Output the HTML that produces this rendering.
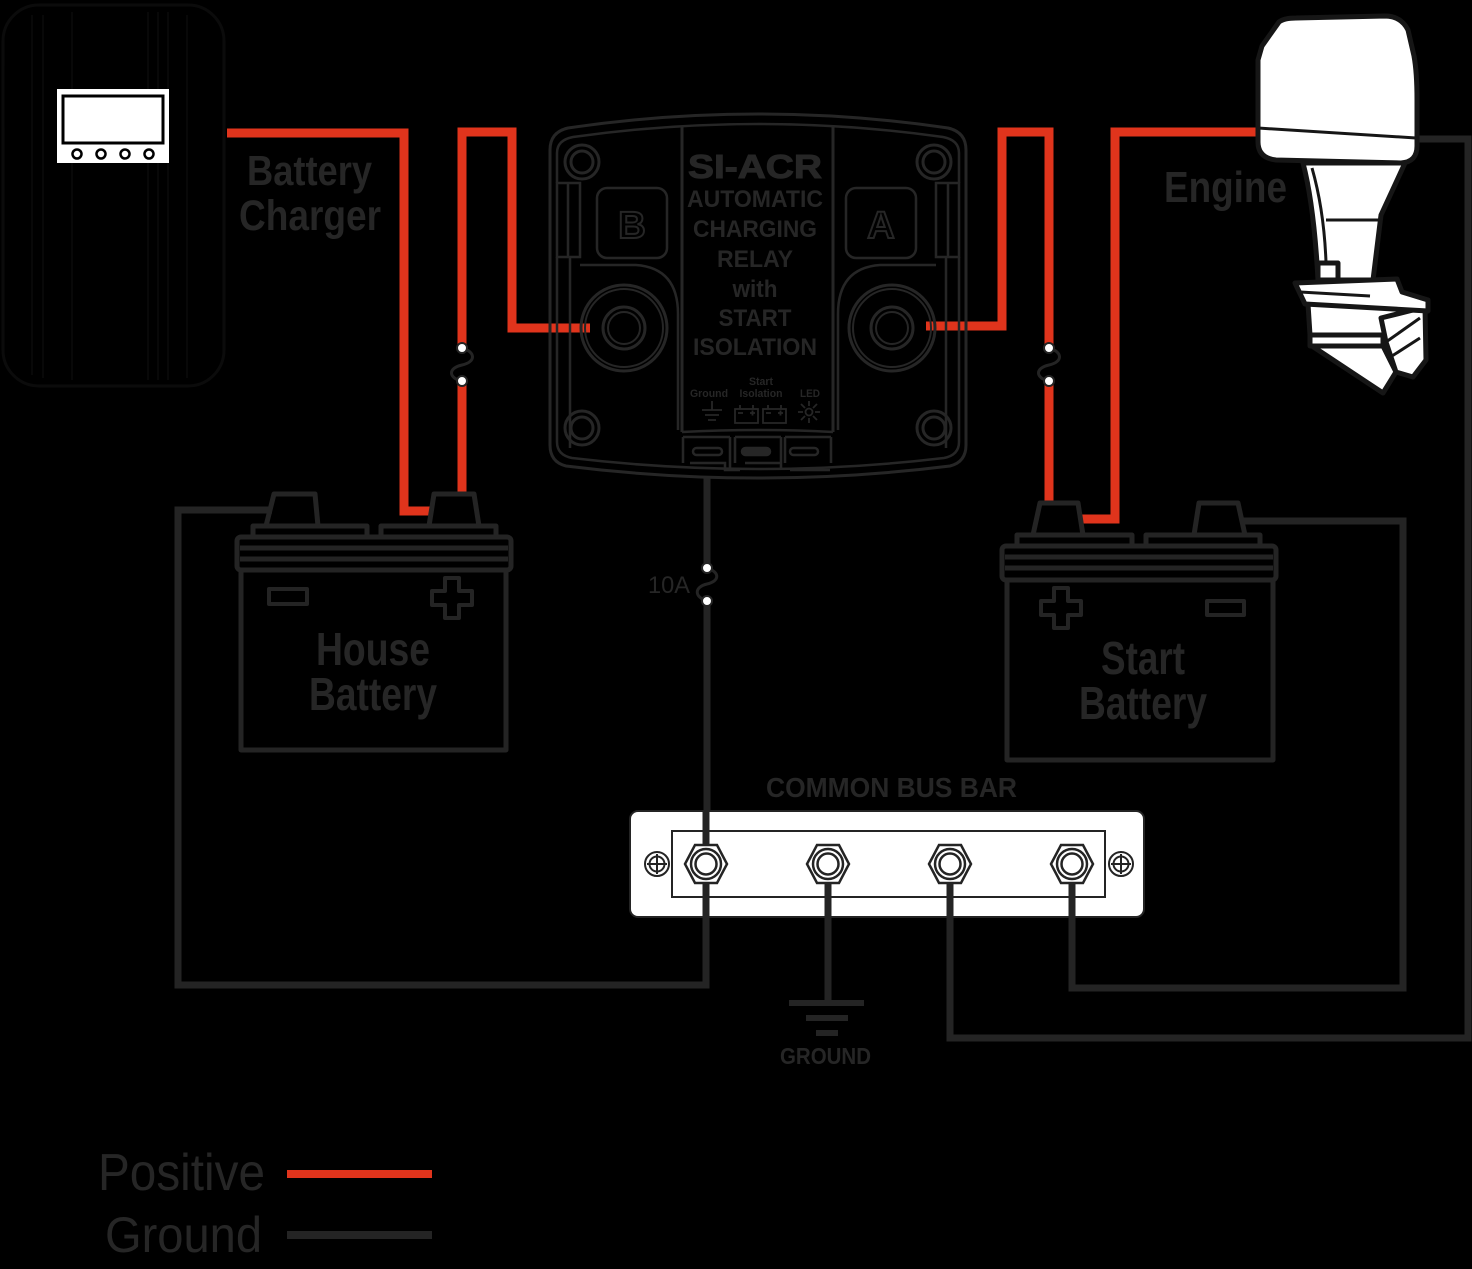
<!DOCTYPE html>
<html><head><meta charset="utf-8"><style>
html,body{margin:0;padding:0;background:#000;}
svg{display:block;}
.t{font-family:"Liberation Sans Narrow","Liberation Sans",sans-serif;fill:#262626;}
</style></head><body>
<svg width="1472" height="1269" viewBox="0 0 1472 1269" xmlns="http://www.w3.org/2000/svg">
<rect x="0" y="0" width="1472" height="1269" fill="#000"/>

<!-- Battery charger (faint) -->
<g stroke="#0b0b0b" fill="none">
<rect x="3" y="5" width="221" height="381" rx="36" stroke-width="3"/>
<g stroke-width="1.5"><line x1="32" y1="15" x2="32" y2="375"/><line x1="43" y1="15" x2="43" y2="378"/><line x1="72" y1="12" x2="72" y2="380"/><line x1="148" y1="12" x2="148" y2="380"/><line x1="158" y1="12" x2="158" y2="380"/><line x1="168" y1="12" x2="168" y2="380"/><line x1="187" y1="15" x2="187" y2="378"/></g>
</g>
<rect x="57" y="89" width="112" height="74" fill="#fff"/>
<rect x="63" y="96" width="100" height="47" fill="#fff" stroke="#000" stroke-width="3"/>
<g fill="#fff" stroke="#000" stroke-width="2.5"><circle cx="77" cy="154" r="4.5"/><circle cx="101" cy="154" r="4.5"/><circle cx="125" cy="154" r="4.5"/><circle cx="149" cy="154" r="4.5"/></g>

<text class="t" x="247" y="185" font-size="42" font-weight="bold" textLength="125" lengthAdjust="spacingAndGlyphs">Battery</text>
<text class="t" x="239" y="230" font-size="43" font-weight="bold" textLength="142" lengthAdjust="spacingAndGlyphs">Charger</text>
<text class="t" x="1164" y="202" font-size="44" font-weight="bold" textLength="123" lengthAdjust="spacingAndGlyphs">Engine</text>

<!-- Ground wires -->
<g stroke="#242424" stroke-width="7" fill="none" stroke-linejoin="miter">
<path d="M272 510 H178 V985 H706 V864"/>
<path d="M707 478 V568 M707 601 V864"/>
<path d="M1243 521 H1403 V988 H1072 V878"/>
<path d="M1412 139 H1468 V1038 H950 V878"/>
<path d="M828 878 V1003"/>
</g>
<g fill="#242424">
<rect x="789" y="1000" width="75" height="6"/>
<rect x="806" y="1015" width="42" height="6"/>
<rect x="816" y="1030" width="22" height="6"/>
</g>

<!-- Red positive wires -->
<g stroke="#e0341c" stroke-width="9" fill="none" stroke-linejoin="miter">
<path d="M227 133 H404 V511 H432"/>
<path d="M462 494 V381 M462 348 V132 H512 V328 H590"/>
<path d="M926 326 H1002 V132 H1049 V348 M1049 381 V505"/>
<path d="M1256 132 H1115 V519 H1080"/>
</g>

<!-- Fuses -->
<g stroke="#242424" stroke-width="3" fill="none">
<path d="M462 348 C476 352 476 362 462 365 C448 368 448 378 462 381"/>
<path d="M1049 348 C1063 352 1063 362 1049 365 C1035 368 1035 378 1049 381"/>
<path d="M707 568 C720 572 720 581 707 584 C694 587 694 597 707 601"/>
</g>
<g fill="#fff" stroke="#242424" stroke-width="2">
<circle cx="462" cy="348" r="5"/><circle cx="462" cy="381" r="5"/>
<circle cx="1049" cy="348" r="5"/><circle cx="1049" cy="381" r="5"/>
<circle cx="707" cy="568" r="5"/><circle cx="707" cy="601" r="5"/>
</g>
<text class="t" x="648" y="593" font-size="24" textLength="42" lengthAdjust="spacingAndGlyphs">10A</text>

<!-- SI-ACR -->
<g stroke="#262626" fill="none" stroke-width="3">
<path d="M550 150 Q550 132 568 128 Q758 100 948 128 Q966 132 966 150 L966 445 Q966 462 950 466 Q758 490 566 466 Q550 462 550 445 Z"/>
<path d="M557 183 L557 153 Q557 140 573 137 Q758 111 943 137 Q959 140 959 153 L959 183 M557 257 L557 442 Q557 455 572 458 Q758 480 944 458 Q959 455 959 442 L959 257" stroke-width="2.5"/>
<rect x="557" y="183" width="23" height="74" stroke-width="2.5"/>
<line x1="568" y1="183" x2="568" y2="257" stroke-width="2.5"/>
<rect x="936" y="183" width="23" height="74" stroke-width="2.5"/>
<line x1="948" y1="183" x2="948" y2="257" stroke-width="2.5"/>
<path d="M570 257 V448" stroke-width="2.5"/>
<path d="M946 257 V448" stroke-width="2.5"/>
<path d="M580 265 H636 Q678 268 678 314 V430" stroke-width="2.5"/>
<path d="M936 265 H880 Q838 268 838 314 V430" stroke-width="2.5"/>
<path d="M682 126 V432 M833 126 V432"/>
<path d="M682 432 Q758 428 833 432" stroke-width="2.5"/>
<rect x="597" y="188" width="70" height="70" rx="10" stroke-width="2.5"/>
<rect x="846" y="188" width="70" height="70" rx="10" stroke-width="2.5"/>
<circle cx="624" cy="328" r="43"/><circle cx="624" cy="328" r="39" stroke-width="2"/>
<circle cx="624" cy="328" r="21"/><circle cx="624" cy="328" r="16" stroke-width="2"/>
<circle cx="892" cy="328" r="43"/><circle cx="892" cy="328" r="39" stroke-width="2"/>
<circle cx="892" cy="328" r="21"/><circle cx="892" cy="328" r="16" stroke-width="2"/>
<circle cx="582" cy="162" r="17"/><circle cx="582" cy="162" r="11"/>
<circle cx="934" cy="162" r="17"/><circle cx="934" cy="162" r="11"/>
<circle cx="582" cy="428" r="17"/><circle cx="582" cy="428" r="11"/>
<circle cx="934" cy="428" r="17"/><circle cx="934" cy="428" r="11"/>
<!-- connectors -->
<g stroke-width="2.5">
<path d="M683 437 V463 M730 437 V470 M735 437 V463 M781 437 V470 M785 437 V463 M831 437 V463"/>
<path d="M683 437 H730 M735 437 H781 M785 437 H831"/>
<rect x="693" y="448" width="29" height="7" rx="3.5"/>
<rect x="742" y="448" width="28" height="7" rx="3.5" fill="#262626"/>
<rect x="790" y="448" width="28" height="7" rx="3.5"/>
<path d="M690 463 H725 V470 H740 M780 463 H745 M790 470 H830"/>
</g>
<!-- small icons -->
<g stroke-width="1.8">
<path d="M712 401 V410 M702 410 H722 M705 415 H719 M708 420 H716"/>
<rect x="735" y="409" width="23" height="14"/>
<path d="M740 409 V405 M753 409 V405 M738 413 H743 M750 413 H755 M752.5 410.5 V415.5"/>
<rect x="763" y="409" width="23" height="14"/>
<path d="M768 409 V405 M781 409 V405 M766 413 H771 M778 413 H783 M780.5 410.5 V415.5"/>
<circle cx="809" cy="412" r="3.5"/>
<path d="M809 401 V406 M809 418 V423 M798 412 H803 M815 412 H820 M801 404 L805 408 M813 416 L817 420 M817 404 L813 408 M805 416 L801 420"/>
</g>
</g>
<text class="t" x="688" y="178" font-size="33" font-weight="bold" textLength="134" lengthAdjust="spacingAndGlyphs" stroke="#262626" stroke-width="1">SI-ACR</text>
<g class="t" font-weight="bold" font-size="24" text-anchor="middle">
<text x="755" y="207" textLength="136" lengthAdjust="spacingAndGlyphs">AUTOMATIC</text>
<text x="755" y="237" textLength="124" lengthAdjust="spacingAndGlyphs">CHARGING</text>
<text x="755" y="267" textLength="76" lengthAdjust="spacingAndGlyphs">RELAY</text>
<text x="755" y="297" textLength="45" lengthAdjust="spacingAndGlyphs">with</text>
<text x="755" y="326" textLength="73" lengthAdjust="spacingAndGlyphs">START</text>
<text x="755" y="355" textLength="124" lengthAdjust="spacingAndGlyphs">ISOLATION</text>
</g>
<g class="t" font-size="11" font-weight="bold" text-anchor="middle">
<text x="709" y="397" textLength="38" lengthAdjust="spacingAndGlyphs">Ground</text>
<text x="761" y="385" textLength="24" lengthAdjust="spacingAndGlyphs">Start</text>
<text x="761" y="397" textLength="43" lengthAdjust="spacingAndGlyphs">Isolation</text>
<text x="810" y="397" textLength="20" lengthAdjust="spacingAndGlyphs">LED</text>
</g>
<text x="632" y="238" font-family="Liberation Sans, sans-serif" font-size="38" font-weight="bold" fill="none" stroke="#262626" stroke-width="2" text-anchor="middle">B</text>
<text x="881" y="238" font-family="Liberation Sans, sans-serif" font-size="38" font-weight="bold" fill="none" stroke="#262626" stroke-width="2" text-anchor="middle">A</text>

<!-- House battery -->
<g stroke="#242424" stroke-width="5" fill="none" stroke-linejoin="round">
<path d="M266 526 L274 494 L315 494 L318 526"/>
<path d="M429 526 L434 494 L474 494 L479 526"/>
<path d="M253 537 V526 H367 V537 M381 537 V526 H496 V537"/>
<rect x="237" y="537" width="274" height="33" rx="4"/>
<path d="M240 548 H508 M240 559 H508"/>
<path d="M241 570 V750 H506 V570"/>
<rect x="269" y="589" width="38" height="15" stroke-width="4"/>
<path d="M445 578 H459 V591 H472 V605 H459 V618 H445 V605 H432 V591 H445 Z" stroke-width="4"/>
</g>
<text class="t" x="316" y="665" font-size="46" font-weight="bold" textLength="114" lengthAdjust="spacingAndGlyphs">House</text>
<text class="t" x="309" y="710" font-size="46" font-weight="bold" textLength="128" lengthAdjust="spacingAndGlyphs">Battery</text>

<!-- Start battery -->
<g stroke="#242424" stroke-width="5" fill="none" stroke-linejoin="round">
<path d="M1033 535 L1040 503 L1078 503 L1083 535"/>
<path d="M1194 535 L1199 503 L1238 503 L1245 535"/>
<path d="M1017 546 V535 H1132 V546 M1146 546 V535 H1260 V546"/>
<rect x="1002" y="546" width="274" height="34" rx="4"/>
<path d="M1005 557 H1273 M1005 568 H1273"/>
<path d="M1007 580 V760 H1273 V580"/>
<rect x="1207" y="601" width="37" height="14" stroke-width="4"/>
<path d="M1054 588 H1068 V601 H1081 V615 H1068 V628 H1054 V615 H1041 V601 H1054 Z" stroke-width="4"/>
</g>
<text class="t" x="1101" y="674" font-size="46" font-weight="bold" textLength="84" lengthAdjust="spacingAndGlyphs">Start</text>
<text class="t" x="1079" y="719" font-size="46" font-weight="bold" textLength="128" lengthAdjust="spacingAndGlyphs">Battery</text>

<!-- Engine -->
<g fill="#fff" stroke="#161616" stroke-width="5" stroke-linejoin="round">
<path d="M1303 163 L1405 163 L1381 215 L1373 280 L1318 280 Q1314 205 1303 163 Z"/>
<path d="M1308 304 L1423 304 L1423 335 L1310 335 Z"/>
<path d="M1310 335 L1383 335 L1383 346 L1310 346 Z"/>
<path d="M1312 346 L1383 346 L1396 372 L1383 393 Z"/>
<path d="M1381 318 L1425 307 L1426 360 L1413 377 L1396 372 L1386 342 Z"/>
<path d="M1295 283 L1397 279 L1402 292 L1428 300 L1428 311 L1305 304 Z"/>
<rect x="1318" y="263" width="20" height="17"/>
<path d="M1262 46 L1279 22 Q1284 18 1296 18 L1385 16 Q1401 16 1408 30 L1414 56 Q1417 72 1417 100 L1417 146 Q1417 162 1401 163 L1276 160 Q1258 158 1258 142 L1258 60 Z"/>
</g>
<g stroke="#161616" fill="none" stroke-width="3">
<path d="M1258 128 L1416 138"/>
<path d="M1312 168 Q1324 210 1326 262"/>
<path d="M1326 220 H1378"/>
<path d="M1300 292 L1370 296"/>
<path d="M1386 342 L1420 318 M1392 356 L1420 338"/>
</g>

<!-- Bus bar -->
<text class="t" x="766" y="797" font-size="28" font-weight="bold" textLength="251" lengthAdjust="spacingAndGlyphs">COMMON BUS BAR</text>
<rect x="630" y="811" width="514" height="106" rx="8" fill="#fff" stroke="#242424" stroke-width="2"/>
<rect x="672" y="831" width="433" height="66" fill="none" stroke="#242424" stroke-width="2"/>
<g stroke="#242424" stroke-width="7">
<line x1="706" y1="811" x2="706" y2="917"/>
<line x1="828" y1="878" x2="828" y2="917"/>
<line x1="950" y1="878" x2="950" y2="917"/>
<line x1="1072" y1="878" x2="1072" y2="917"/>
</g>
<g stroke="#242424" fill="#fff" stroke-width="2.5">
<g><path d="M685 864 L695 845 L717 845 L727 864 L717 883 L695 883 Z"/><circle cx="706" cy="864" r="15"/><circle cx="706" cy="864" r="10.5"/></g>
<g><path d="M807 864 L817 845 L839 845 L849 864 L839 883 L817 883 Z"/><circle cx="828" cy="864" r="15"/><circle cx="828" cy="864" r="10.5"/></g>
<g><path d="M929 864 L939 845 L961 845 L971 864 L961 883 L939 883 Z"/><circle cx="950" cy="864" r="15"/><circle cx="950" cy="864" r="10.5"/></g>
<g><path d="M1051 864 L1061 845 L1083 845 L1093 864 L1083 883 L1061 883 Z"/><circle cx="1072" cy="864" r="15"/><circle cx="1072" cy="864" r="10.5"/></g>
<circle cx="657" cy="864" r="12" stroke-width="2"/><circle cx="657" cy="864" r="7.5" stroke-width="2"/>
<path d="M657 854 V874 M647 864 H667" stroke-width="2"/>
<circle cx="1121" cy="864" r="12" stroke-width="2"/><circle cx="1121" cy="864" r="7.5" stroke-width="2"/>
<path d="M1121 854 V874 M1111 864 H1131" stroke-width="2"/>
</g>
<text class="t" x="780" y="1064" font-size="23" font-weight="bold" textLength="91" lengthAdjust="spacingAndGlyphs">GROUND</text>

<!-- Legend -->
<text class="t" x="98" y="1190" font-size="52" textLength="167" lengthAdjust="spacingAndGlyphs">Positive</text>
<text class="t" x="105" y="1252" font-size="50" textLength="157" lengthAdjust="spacingAndGlyphs">Ground</text>
<rect x="287" y="1170" width="145" height="8" fill="#e0341c"/>
<rect x="287" y="1231" width="145" height="8" fill="#242424"/>
</svg>
</body></html>
